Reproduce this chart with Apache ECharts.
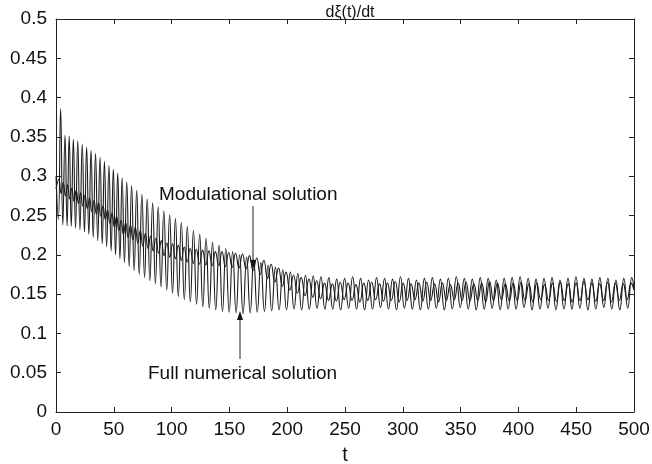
<!DOCTYPE html>
<html><head><meta charset="utf-8">
<script src="https://cdn.jsdelivr.net/npm/echarts@6/dist/echarts.min.js"></script>
<style>html,body{margin:0;padding:0;background:#fff}#c{width:652px;height:464px}</style>
</head><body><div id="c"></div>
<script>
// ---- Full numerical solution: local maxima / minima ----
const fullPeakT = [4.0,7.8,11.4,15.0,18.8,22.7,26.5,30.3,34.2,38.1,41.9,45.8,49.6,53.4,57.2,
  61.2,65.4,69.8,74.3,78.9,83.6,88.4,93.3,98.3,103.3,108.4,113.6,118.9,124.3,129.8,135.4,141.1,146.9,152.8,158.8,
  164.9,171.0,177.2,183.5,189.8,196.2,202.7,209.2,215.8,222.5,229.2,
  236.0,242.8,249.7,256.6,263.5,270.4,277.3,284.2,291.1,298.0,304.9,311.8,318.7,325.6,332.5,339.4,346.3,353.2,360.1,367.0,
  373.9,380.8,387.7,394.6,401.5,408.4,415.3,422.2,429.1,436.0,442.9,449.8,456.7,463.6,470.5,477.4,484.3,491.2,498.1];
const fullPeakV = [0.386,0.352,0.351,0.347,0.345,0.341,0.337,0.333,0.329,0.324,0.319,0.314,0.309,0.304,0.298,
  0.293,0.288,0.282,0.277,0.271,0.266,0.261,0.256,0.251,0.246,0.241,0.236,0.231,0.226,0.221,0.216,0.212,0.208,0.204,0.2,
  0.197,0.194,0.19,0.187,0.184,0.181,0.178,0.176,0.174,0.173,0.172,
  0.171,0.169,0.17,0.172,0.17,0.168,0.171,0.17,0.169,0.172,0.17,0.168,0.17,0.171,0.169,0.17,0.172,0.17,0.169,0.171,
  0.17,0.168,0.17,0.171,0.172,0.17,0.169,0.17,0.171,0.168,0.17,0.172,0.17,0.169,0.171,0.17,0.168,0.17,0.171];
const fullTroughT = [2.0,5.9,9.6,13.2,16.9,20.7,24.6,28.4,32.2,36.1,40.0,43.8,47.7,51.5,55.3,59.2,63.3,67.6,72.0,76.6,
  81.2,86.0,90.8,95.8,100.8,105.8,111.0,116.2,121.6,127.0,132.6,138.2,144.0,149.8,155.8,161.8,168.0,174.1,180.3,186.6,
  193.0,199.4,205.9,212.5,219.1,225.8,232.6,
  239.4,246.2,253.1,260.0,266.9,273.8,280.7,287.6,294.5,301.4,308.3,315.2,322.1,329.0,335.9,342.8,349.7,356.6,363.5,370.4,
  377.3,384.2,391.1,398.0,404.9,411.8,418.7,425.6,432.5,439.4,446.3,453.2,460.1,467.0,473.9,480.8,487.7,494.6];
const fullTroughV = [0.245,0.238,0.237,0.236,0.234,0.232,0.229,0.226,0.222,0.218,0.214,0.21,0.205,0.2,0.195,0.19,0.185,0.18,0.175,0.171,
  0.167,0.163,0.159,0.155,0.151,0.147,0.143,0.14,0.137,0.134,0.132,0.13,0.128,0.127,0.126,0.125,0.126,0.127,0.128,0.129,
  0.13,0.13,0.131,0.13,0.131,0.132,0.131,
  0.131,0.13,0.132,0.131,0.13,0.131,0.133,0.131,0.13,0.132,0.131,0.13,0.131,0.132,0.13,0.131,0.133,0.131,0.13,0.131,
  0.132,0.13,0.131,0.131,0.133,0.13,0.131,0.132,0.13,0.131,0.131,0.132,0.13,0.131,0.133,0.131,0.13,0.132];
const fullEndT = [0, 500];
const fullEndV = [0.300, 0.158];

// ---- Modulational solution ----
const modPeakT = [2.5,6.3,10.0,13.7,17.5,21.3,25.1,29.0,32.9,36.8,40.7,44.6,48.5,52.4,56.3,
  60.3,64.4,68.6,72.9,77.3,81.8,86.4,91.1,95.9,100.8,105.8,110.9,116.1,121.4,126.8,132.3,137.9,143.6,149.4,155.3,
  161.3,167.4,173.6,179.8,186.1,192.5,199.0,205.5,212.1,218.8,225.5,
  232.3,239.1,245.9,252.7,259.5,266.3,273.1,279.9,286.7,293.5,300.3,307.1,313.9,320.7,327.5,334.3,341.1,347.9,354.7,361.5,
  368.3,375.1,381.9,388.7,395.5,402.3,409.1,415.9,422.7,429.5,436.3,443.1,449.9,456.7,463.5,470.3,477.1,483.9,490.7,497.5];
const modPeakV = [0.296,0.292,0.289,0.285,0.282,0.279,0.276,0.272,0.269,0.266,0.262,0.257,0.253,0.249,0.244,
  0.241,0.238,0.235,0.231,0.227,0.224,0.221,0.218,0.215,0.214,0.212,0.21,0.208,0.207,0.206,0.205,0.204,0.204,0.203,0.202,
  0.201,0.199,0.196,0.193,0.188,0.183,0.178,0.174,0.171,0.169,0.167,
  0.164,0.163,0.165,0.164,0.162,0.164,0.165,0.163,0.164,0.166,0.164,0.163,0.164,0.165,0.163,0.164,0.162,0.164,0.165,0.163,
  0.164,0.166,0.164,0.163,0.164,0.165,0.163,0.164,0.162,0.164,0.165,0.163,0.164,0.166,0.164,0.163,0.165,0.164,0.163,0.164];
const modTroughT = [4.4,8.2,11.9,15.6,19.4,23.2,27.1,31.0,34.9,38.8,42.7,46.6,50.5,54.4,
  58.3,62.4,66.5,70.8,75.1,79.6,84.1,88.8,93.5,98.4,103.3,108.4,113.5,118.8,124.1,129.6,135.1,140.8,146.5,152.4,
  158.3,164.4,170.5,176.7,183.0,189.3,195.8,202.3,208.8,215.5,222.2,228.9,
  235.7,242.5,249.3,256.1,262.9,269.7,276.5,283.3,290.1,296.9,303.7,310.5,317.3,324.1,330.9,337.7,344.5,351.3,358.1,
  364.9,371.7,378.5,385.3,392.1,398.9,405.7,412.5,419.3,426.1,432.9,439.7,446.5,453.3,460.1,466.9,473.7,480.5,487.3,494.1];
const modTroughV = [0.278,0.275,0.271,0.268,0.265,0.262,0.259,0.255,0.252,0.249,0.245,0.24,0.235,0.231,
  0.226,0.222,0.219,0.215,0.211,0.208,0.205,0.202,0.199,0.197,0.195,0.193,0.191,0.189,0.188,0.187,0.186,0.186,0.185,0.184,
  0.183,0.182,0.18,0.175,0.17,0.165,0.16,0.155,0.151,0.148,0.146,0.144,
  0.142,0.141,0.143,0.142,0.14,0.142,0.143,0.141,0.142,0.14,0.142,0.143,0.141,0.142,0.14,0.142,0.143,0.142,0.141,
  0.142,0.14,0.142,0.143,0.141,0.142,0.142,0.14,0.143,0.142,0.141,0.142,0.14,0.142,0.143,0.141,0.142,0.14,0.142,0.143];
const modEndT = [0, 500];
const modEndV = [0.284, 0.155];

const xTickStep = 50, yTickStep = 0.05;
const titleText = 'dξ(t)/dt', xName = 't';
const labelMod = 'Modulational solution', labelFull = 'Full numerical solution';

function buildPoints(lists) {
  const out = [];
  for (const [T, V] of lists) {
    const n = Math.min(T.length, V.length);
    for (let i = 0; i < n; i++) out.push([T[i], V[i]]);
  }
  out.sort((a, b) => a[0] - b[0]);
  return out;
}
const fullData = buildPoints([[fullPeakT, fullPeakV], [fullTroughT, fullTroughV], [fullEndT, fullEndV]]);
const modData = buildPoints([[modPeakT, modPeakV], [modTroughT, modTroughV], [modEndT, modEndV]]);

const FONT = 'Liberation Sans, Arial, Helvetica, sans-serif';
const AX = '#222';
function xa(pos, showLabel) {
  return {type:'value', min:0, max:500, interval:xTickStep, position:pos,
    axisLine:{show:true, onZero:false, lineStyle:{color:AX, width:1}},
    axisTick:{show:true, inside:true, length:5, lineStyle:{color:AX}},
    axisLabel:{show:showLabel, fontSize:19, color:'#111', fontFamily:FONT, margin:8},
    splitLine:{show:false},
    name: showLabel ? xName : '', nameLocation:'middle', nameGap:33,
    nameTextStyle:{fontSize:20, color:'#111', fontFamily:FONT}};
}
function ya(pos, showLabel) {
  return {type:'value', min:0, max:0.5, interval:yTickStep, position:pos,
    axisLine:{show:true, onZero:false, lineStyle:{color:AX, width:1}},
    axisTick:{show:true, inside:true, length:5, lineStyle:{color:AX}},
    axisLabel:{show:showLabel, fontSize:19, color:'#111', fontFamily:FONT, margin:9},
    splitLine:{show:false}};
}
const chart = echarts.init(document.getElementById('c'), null, {renderer:'canvas'});
chart.setOption({
  backgroundColor:'#fff',
  animation:false,
  title:{text:titleText, left:345, top:0, textAlign:'center',
    textStyle:{fontSize:16, fontWeight:'normal', color:'#111', fontFamily:FONT}},
  grid:{left:56, right:18, top:19, bottom:52, containLabel:false, outerBoundsMode:'none'},
  xAxis:[xa('bottom', true), xa('top', false)],
  yAxis:[ya('left', true), ya('right', false)],
  series:[
    {name:labelFull, type:'line', data:fullData, showSymbol:false, smooth:0.5, xAxisIndex:0, yAxisIndex:0,
      lineStyle:{color:'#1a1a1a', width:1.1}},
    {name:labelMod, type:'line', data:modData, showSymbol:false, smooth:0.5, xAxisIndex:0, yAxisIndex:0,
      lineStyle:{color:'#1a1a1a', width:1.1}}
  ],
  graphic:[
    {type:'text', left:159, top:185, style:{text:labelMod, fontSize:19, fill:'#111', fontFamily:FONT}},
    {type:'line', shape:{x1:253, y1:206, x2:253, y2:262}, style:{stroke:'#222', lineWidth:1}},
    {type:'polygon', shape:{points:[[253,269],[250,260],[256,260]]}, style:{fill:'#111'}},
    {type:'text', left:148, top:364, style:{text:labelFull, fontSize:19, fill:'#111', fontFamily:FONT}},
    {type:'line', shape:{x1:240, y1:359, x2:240, y2:318}, style:{stroke:'#222', lineWidth:1}},
    {type:'polygon', shape:{points:[[240,311],[237,320],[243,320]]}, style:{fill:'#111'}}
  ]
});
</script></body></html>
